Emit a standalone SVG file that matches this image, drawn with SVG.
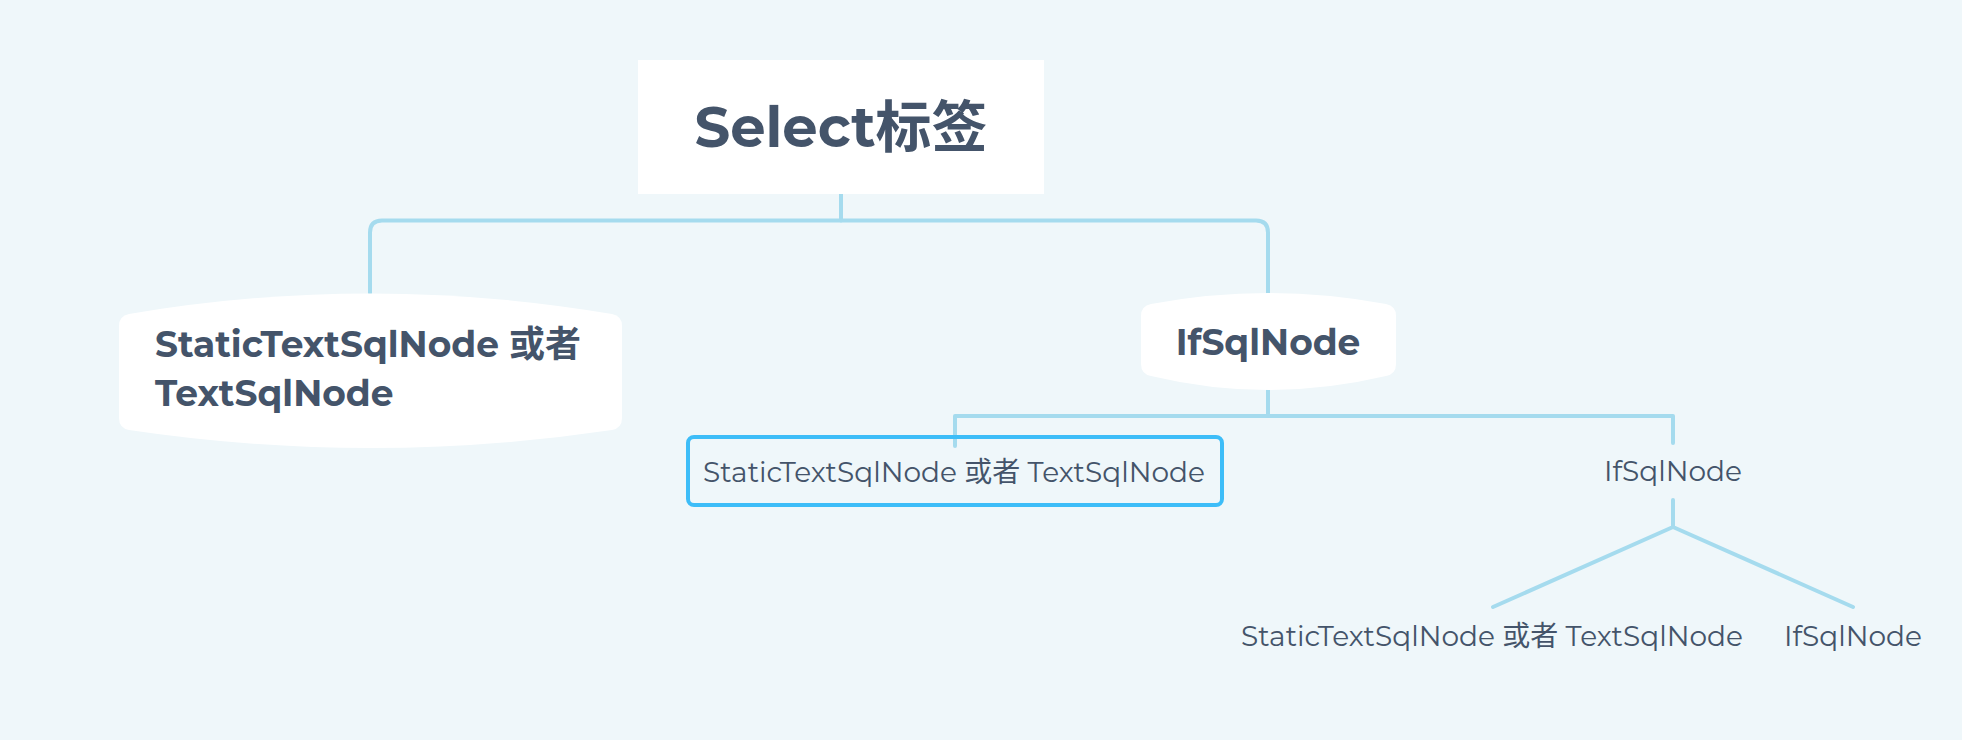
<svg xmlns="http://www.w3.org/2000/svg" width="1962" height="740" viewBox="0 0 1962 740">
<style>
.t{font-family:"Montserrat","Open Sans","Noto Sans CJK SC",sans-serif;fill:#44546A}
.b{font-weight:700}
.c{fill:none;stroke:#A5DBEE;stroke-width:4;stroke-linecap:round;stroke-linejoin:round}
.n{fill:#FFFFFF}
</style>
<rect width="1962" height="740" fill="#EFF7FA"/>
<g id="connectors">
<path class="c" d="M841,194 V220.5"/>
<path class="c" d="M370,293 V232.5 Q370,220.5 382,220.5 H1256 Q1268,220.5 1268,232.5 V293"/>
<path class="c" d="M1268,390 V416 M955,446 V416 H1673 V443"/>
<path class="c" d="M1673,500 V527 L1493,607 M1673,527 L1853,607"/>
</g>
<g id="root">
<rect class="n" x="638" y="60" width="406" height="134"/>
<text class="t b" x="841" y="147" font-size="56" text-anchor="middle">Select标签</text>
</g>
<g id="static-left">
<path class="n" d="M119,326 Q119,316 129,314 Q370,273 612,314 Q622,316 622,326 L622,418 Q622,428 612,430 Q370,466 129,430 Q119,428 119,418 Z"/>
<text class="t b" x="155" y="357" font-size="36">StaticTextSqlNode 或者</text>
<text class="t b" x="155" y="406" font-size="36">TextSqlNode</text>
</g>
<g id="if-right">
<path class="n" d="M1141,316 Q1141,306 1151,304 Q1268,282 1386,304 Q1396,306 1396,316 L1396,364 Q1396,374 1386,376 Q1268,404 1151,376 Q1141,374 1141,364 Z"/>
<text class="t b" x="1268" y="355" font-size="36" text-anchor="middle">IfSqlNode</text>
</g>
<g id="static-mid">
<rect x="688" y="437" width="534" height="68" rx="6" fill="none" stroke="#3DBDF8" stroke-width="4"/>
<text class="t" x="954" y="482" font-size="28" text-anchor="middle">StaticTextSqlNode 或者 TextSqlNode</text>
</g>
<g id="if-mid">
<text class="t" x="1673" y="481" font-size="28" text-anchor="middle">IfSqlNode</text>
</g>
<g id="static-bottom">
<text class="t" x="1492" y="646" font-size="28" text-anchor="middle">StaticTextSqlNode 或者 TextSqlNode</text>
</g>
<g id="if-bottom">
<text class="t" x="1853" y="646" font-size="28" text-anchor="middle">IfSqlNode</text>
</g>
</svg>
